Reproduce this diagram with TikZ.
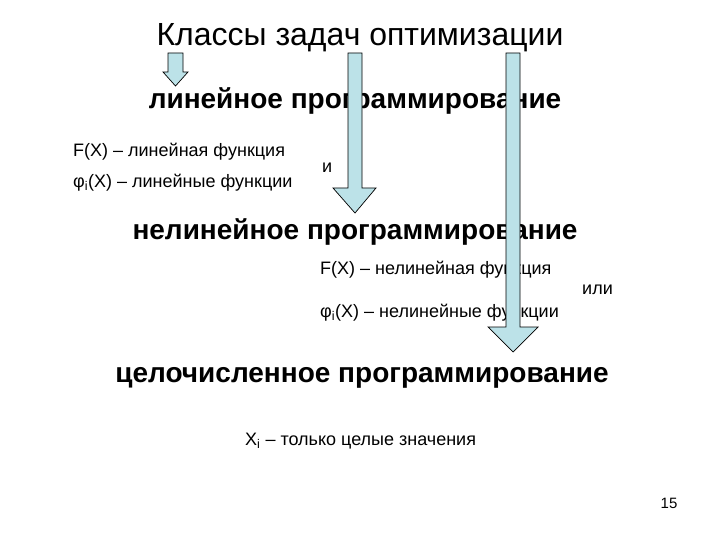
\documentclass[tikz,border=0pt]{standalone}
\usepackage{fontspec}
\setmainfont{Liberation Sans}
\definecolor{arrowfill}{RGB}{188,226,232}
\begin{document}
\begin{tikzpicture}[x=1pt,y=-1pt,
  tt/.style={font=\fontsize{32}{36}\selectfont},
  hd/.style={font=\bfseries\fontsize{28}{32}\selectfont},
  sm/.style={font=\fontsize{18}{20}\selectfont, anchor=west, inner sep=0},
  barrow/.style={draw=black, fill=arrowfill, line width=0.7pt}]
\useasboundingbox (0,0) rectangle (720,540);
\node[tt] (title) at (360,38) {Классы задач оптимизации};
\node[hd] (lin) at (355,101) {линейное программирование};
\node[sm] (l1) at (73,152) {F(X) – линейная функция};
\node[sm] (l2) at (73,183) {φ\textsubscript{i}(X) – линейные функции};
\node[sm] (and) at (322,168) {и};
\node[hd] (nonlin) at (355,232) {нелинейное программирование};
\node[sm] (n1) at (320,270) {F(X) – нелинейная функция};
\node[sm] (or) at (582,290) {или};
\node[sm] (n2) at (320,313) {φ\textsubscript{i}(X) – нелинейные функции};
\node[hd] (int) at (362,378) {целочисленное программирование};
\node[sm] (i1) at (245,441) {X\textsubscript{i} – только целые значения};
\node[font=\fontsize{15}{17}\selectfont] (pg) at (669,503) {15};
\fill[barrow] (168,53) -- (183,53) -- (183,72) -- (188,72) -- (175.5,86) -- (163,72) -- (168,72) -- cycle;
\fill[barrow] (348,53) -- (362,53) -- (362,188) -- (376,188) -- (355,213) -- (333,188) -- (348,188) -- cycle;
\fill[barrow] (506,53) -- (520,53) -- (520,327) -- (538,327) -- (513,352) -- (488,327) -- (506,327) -- cycle;
\end{tikzpicture}
\end{document}
